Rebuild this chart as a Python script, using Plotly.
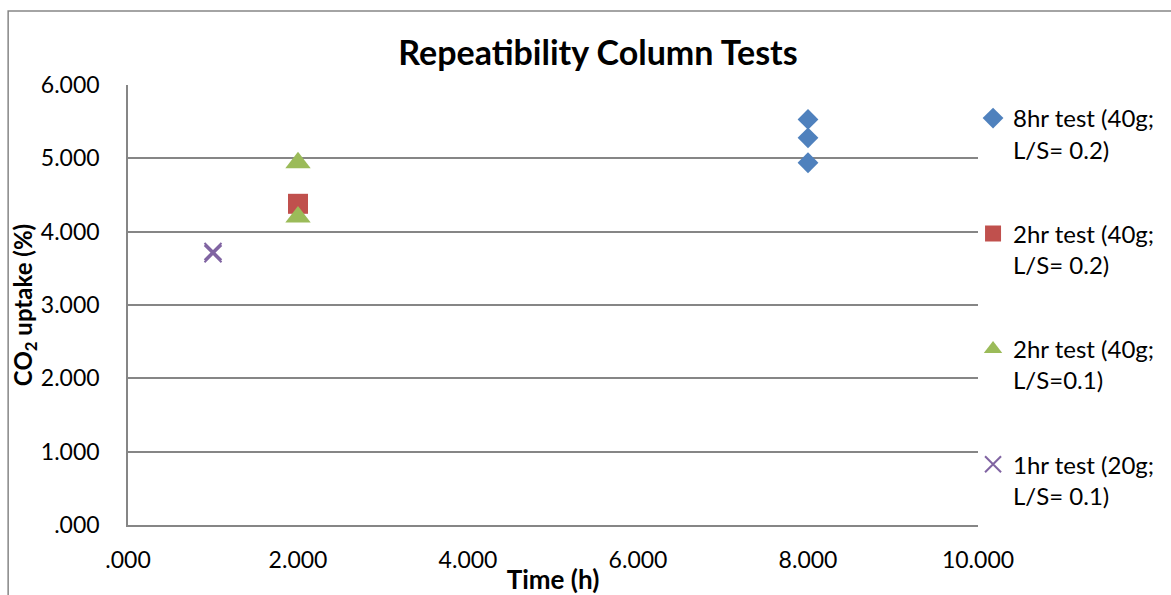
import plotly.graph_objects as go

# Repeatability column tests: CO2 uptake vs. test duration
x_ticks = [0, 2, 4, 6, 8, 10]
x_tick_text = [".000", "2.000", "4.000", "6.000", "8.000", "10.000"]
y_ticks = [0, 1, 2, 3, 4, 5, 6]
y_tick_text = [".000", "1.000", "2.000", "3.000", "4.000", "5.000", "6.000"]

t_8hr_02 = [8, 8, 8]
u_8hr_02 = [5.53, 5.28, 4.94]

t_2hr_02 = [2]
u_2hr_02 = [4.38]

t_2hr_01 = [2, 2]
u_2hr_01 = [4.94, 4.20]

t_1hr_01 = [1, 1]
u_1hr_01 = [3.70, 3.73]

FONT = "Lato"
GRID = "#868686"

fig = go.Figure()

fig.add_trace(go.Scatter(
    x=t_8hr_02, y=u_8hr_02, mode="markers", name="8hr test (40g;<br>L/S= 0.2)",
    legendgroup="a",
    marker=dict(symbol="diamond", size=16, color="#4F81BD"),
))
fig.add_trace(go.Scatter(
    x=t_2hr_02, y=u_2hr_02, mode="markers", name="2hr test (40g;<br>L/S= 0.2)",
    legendgroup="b",
    marker=dict(symbol="square", size=20, color="#C0504D"),
))
fig.add_trace(go.Scatter(
    x=t_2hr_01, y=u_2hr_01, mode="markers", name="2hr test (40g;<br>L/S=0.1)",
    legendgroup="c",
    marker=dict(symbol="triangle-up", size=22, color="#9BBB59"),
))
fig.add_trace(go.Scatter(
    x=t_1hr_01, y=u_1hr_01, mode="markers", name="1hr test (20g;<br>L/S= 0.1)",
    legendgroup="d",
    marker=dict(symbol="x-thin", size=17, color="#8064A2",
                line=dict(color="#8064A2", width=2)),
))

fig.update_layout(
    width=1171, height=595,
    margin=dict(l=128, r=192, t=85, b=70),
    plot_bgcolor="white", paper_bgcolor="white",
    font=dict(family=FONT, color="black", size=23),
    title=dict(text="<b>Repeatibility Column Tests</b>", x=598 / 1171, xanchor="center",
               y=1 - 53 / 595, yanchor="middle", font=dict(size=34, family=FONT)),
    legend=dict(x=0.993, xanchor="left", y=1 - 11 / 440, yanchor="top",
                valign="top", tracegroupgap=50, font=dict(size=24, family=FONT),
                bgcolor="rgba(0,0,0,0)", itemwidth=30),
    xaxis=dict(range=[0, 10], tickvals=x_ticks, ticktext=x_tick_text,
               showgrid=False, zeroline=False, showline=True, linecolor=GRID,
               linewidth=1.5, ticks="", ticklabelstandoff=14, automargin=False,
               tickfont=dict(size=23),
               title=dict(text="<b>Time (h)</b>", font=dict(size=26), standoff=2)),
    yaxis=dict(range=[0, 6], tickvals=y_ticks, ticktext=y_tick_text,
               showgrid=True, gridcolor=GRID, gridwidth=1.5, zeroline=False,
               showline=True, linecolor=GRID, linewidth=1.5, ticks="",
               ticklabelstandoff=22, tickfont=dict(size=23), automargin=False,
               title=dict(text="<b>CO<sub>2</sub> uptake (%)</b>", font=dict(size=24), standoff=0)),
    shapes=[dict(type="rect", xref="paper", yref="paper",
                 x0=(8 - 128) / 851, x1=1.4, y0=-0.4, y1=(525 - 11) / 440,
                 line=dict(color=GRID, width=1.5), fillcolor="rgba(0,0,0,0)",
                 layer="below")],
)

fig.write_html("out.html")
